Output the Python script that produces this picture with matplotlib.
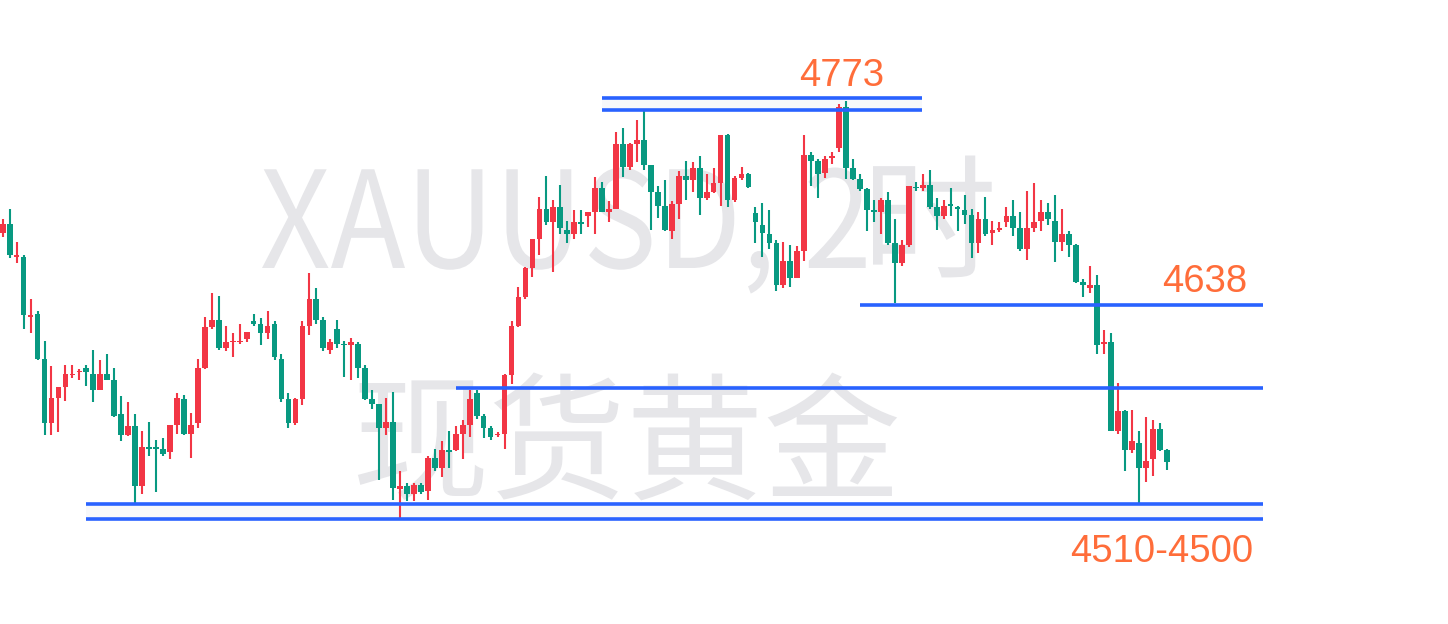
import numpy as np
import matplotlib
matplotlib.use("Agg")
import matplotlib.pyplot as plt
from matplotlib.textpath import TextPath
from matplotlib.patches import PathPatch
from matplotlib.font_manager import FontProperties
from matplotlib.transforms import Affine2D

# XAUUSD 2h candles (price units)
opens = [
    4686, 4692, 4670, 4670, 4630, 4632, 4602, 4559, 4576, 4583,
    4591, 4593, 4596, 4592, 4581, 4592, 4588, 4565, 4551, 4557,
    4517, 4543, 4543, 4542, 4540, 4558, 4575, 4552, 4559, 4596,
    4623, 4628, 4609, 4613, 4613, 4615, 4627, 4625, 4619, 4625,
    4602, 4575, 4559, 4575, 4624, 4642, 4628, 4608, 4622, 4612,
    4611, 4612, 4596, 4575, 4572, 4556, 4560, 4515, 4517, 4512,
    4518, 4514, 4536, 4529, 4541, 4541, 4552, 4558, 4579, 4564,
    4556, 4551, 4552, 4591, 4624, 4643, 4662.5, 4682, 4702, 4693,
    4703, 4688, 4685, 4693, 4697, 4700, 4716, 4700, 4702, 4745,
    4730, 4745, 4748, 4731, 4713, 4704, 4687, 4705, 4724, 4721,
    4729, 4709, 4713, 4719, 4751, 4708, 4722.5, 4725, 4699, 4691,
    4685, 4679, 4651, 4667, 4656, 4674, 4738, 4734, 4726, 4736,
    4742.5, 4770, 4729, 4722, 4715, 4701, 4700, 4708, 4679, 4666,
    4678, 4716.5, 4716, 4718, 4703, 4697, 4705, 4703, 4701, 4698,
    4679, 4695, 4686, 4688, 4693, 4697, 4689, 4675, 4689, 4693.5,
    4700, 4694, 4680, 4685, 4678, 4653, 4649, 4651, 4612, 4613,
    4554, 4567, 4541, 4546, 4529, 4535, 4555, 4541,
]
highs = [
    4695, 4702, 4680, 4671, 4642, 4634, 4614, 4597, 4583, 4598,
    4598, 4595, 4598, 4608, 4601, 4605, 4596, 4577, 4573, 4565,
    4554, 4560, 4548, 4549, 4558, 4579, 4578, 4566, 4602, 4630,
    4646, 4644, 4624, 4619, 4625, 4620, 4632, 4629, 4634, 4627,
    4605, 4579, 4576, 4627, 4659, 4649, 4630, 4615, 4628, 4614,
    4616, 4613, 4598, 4581, 4572, 4576, 4580, 4527, 4519, 4519,
    4519, 4537, 4542, 4547, 4554, 4557, 4561, 4581, 4581, 4565,
    4557, 4553, 4592, 4627, 4650, 4663, 4682, 4710, 4724, 4708,
    4718, 4694, 4701, 4701, 4700, 4723, 4720, 4707, 4753, 4756,
    4746, 4761, 4767, 4731, 4717, 4721, 4707, 4727, 4734, 4733,
    4737, 4725, 4729, 4751, 4752, 4724, 4730, 4725.5, 4703, 4706,
    4701, 4681, 4680, 4678, 4677, 4751, 4740, 4735, 4737, 4740,
    4772, 4774, 4735, 4725, 4716, 4708, 4709, 4713, 4695, 4681,
    4717, 4720, 4725, 4728, 4709, 4708, 4716, 4704, 4711, 4702,
    4700, 4710, 4694, 4693, 4703, 4708, 4700, 4714, 4719, 4708,
    4706, 4711, 4702, 4687, 4678.5, 4655, 4664, 4658, 4621, 4619,
    4586, 4568, 4568, 4554, 4563, 4561, 4559, 4541.5,
]
lows = [
    4683, 4669, 4666, 4622, 4619, 4601, 4551, 4551, 4553, 4574,
    4589, 4588, 4584, 4573, 4581, 4587.5, 4563, 4547, 4550.5, 4505,
    4512, 4537, 4513, 4537, 4535, 4552, 4551, 4536, 4556, 4595,
    4622, 4608, 4607, 4603, 4612, 4613, 4624, 4611, 4615, 4601,
    4573, 4556, 4558, 4571, 4618, 4625, 4607, 4605, 4609, 4590,
    4588, 4589, 4574.5, 4568.5, 4521, 4551, 4508, 4495, 4507, 4507,
    4512, 4508, 4527, 4523, 4529, 4540.5, 4535, 4550, 4562, 4549,
    4548, 4550, 4542, 4585, 4623, 4642, 4656.5, 4671, 4691, 4660,
    4685, 4679, 4682, 4685, 4690, 4685, 4700, 4693, 4702, 4723,
    4728, 4733, 4728, 4688, 4696, 4687, 4682, 4695, 4708, 4713,
    4698, 4708, 4712.5, 4704, 4703, 4706.5, 4721, 4716, 4679, 4670,
    4675, 4647, 4649, 4650, 4655.5, 4667, 4717, 4709, 4722.5, 4732,
    4740, 4722, 4721, 4714, 4687, 4693, 4685, 4678, 4639, 4664,
    4676.5, 4713.5, 4714, 4702, 4688, 4695, 4697, 4687, 4692, 4669,
    4672.5, 4684, 4678, 4686.5, 4690, 4684, 4674, 4668, 4686.5, 4687,
    4691, 4666.5, 4674, 4670, 4652.5, 4643, 4646, 4605, 4605, 4553.5,
    4552, 4527, 4539, 4505, 4520, 4524, 4540.5, 4528,
]
closes = [
    4692, 4671, 4671, 4631, 4631, 4602, 4559, 4576, 4583, 4592,
    4592, 4594, 4593, 4581, 4592, 4588, 4564, 4551, 4557, 4517,
    4543, 4542, 4542, 4538.5, 4558, 4576, 4552, 4558, 4596, 4623,
    4628, 4609, 4613, 4614, 4614, 4620, 4625, 4619, 4624, 4603,
    4575, 4559, 4575, 4624, 4642, 4628, 4609, 4613, 4612, 4611,
    4613, 4596, 4575, 4572, 4556, 4560, 4516, 4517, 4512, 4518,
    4513, 4536, 4529, 4541, 4540, 4552, 4558, 4575, 4564, 4556,
    4550, 4552, 4591, 4624, 4643, 4662.5, 4682, 4702, 4693, 4703,
    4689, 4685, 4693, 4692, 4700, 4716, 4700, 4702, 4745, 4730,
    4745, 4748, 4731, 4713, 4704, 4688, 4705, 4724, 4721, 4729,
    4709, 4713, 4719, 4751, 4708, 4722.5, 4725, 4716.5, 4693, 4686,
    4679, 4651, 4667, 4656, 4674, 4738, 4734, 4725, 4735, 4737,
    4770, 4729, 4722, 4715, 4701, 4699.5, 4708, 4679, 4666, 4678,
    4717, 4715.5, 4718, 4703, 4697, 4704, 4704, 4702, 4698, 4679,
    4695, 4685, 4688, 4689, 4697, 4689, 4675, 4689, 4693, 4700,
    4695, 4680, 4685, 4678, 4653, 4651, 4651, 4611, 4613, 4554,
    4567, 4541, 4547, 4529, 4534, 4555, 4541, 4533,
]

# horizontal levels drawn on the chart: (start bar, end bar, price)
levels = [
    (86.0, 131.9, 4775.5),
    (86.0, 131.9, 4767.7),
    (123.0, 180.8, 4637.7),
    (65.0, 180.8, 4582.3),
    (11.95, 180.8, 4505.0),
    (11.95, 180.8, 4494.8),
]
labels = ["4773", "4638", "4510-4500"]

UP = "#f23645"    # red = rising
DOWN = "#089981"  # green = falling
BLUE = "#2962ff"
ORANGE = "#ff6d3a"
WM = "#e6e6e9"
CJK = ["Noto Sans CJK SC", "DejaVu Sans"]

o = np.array(opens)
h = np.array(highs)
l = np.array(lows)
c = np.array(closes)
x = np.arange(len(o))
colors = np.where(c > o, UP, DOWN)

fig = plt.figure(figsize=(14.48, 6.24), dpi=100)
ax = fig.add_axes([0, 0, 1, 1])
ax.set_xlim(-0.387, 207.36)
ax.set_ylim(4425, 4841)
ax.axis("off")


def watermark(s, left_px, base_px, pts, sx=1.0):
    # glyph outline placed in pixel coords; sx squeezes it sideways
    tp = TextPath((0, 0), s, size=pts * 100 / 72, prop=FontProperties(family=CJK))
    x0 = tp.get_extents().x0
    tr = Affine2D().scale(sx, 1.0).translate(left_px - x0 * sx, 624 - base_px)
    ax.add_patch(PathPatch(tp, transform=tr, facecolor=WM, lw=0, zorder=0))


watermark("XAUUSD, 2", 262, 268, 97, sx=0.915)
watermark("时", 873, 268, 97)
ax.text(0.2425, 0.2147, "现货黄金", transform=ax.transAxes, ha="left", va="baseline",
        fontsize=99, color=WM, family=CJK, zorder=0)

body_lo = np.minimum(o, c)
body_h = np.maximum(np.abs(c - o), 1.0)
ax.vlines(x, l, h, colors=colors, lw=1.5, zorder=2)
ax.bar(x, body_h, bottom=body_lo, width=0.82, color=colors, lw=0, zorder=3)

# faint band inside the paired levels
ax.fill_between([levels[0][0], levels[0][1]], levels[1][2], levels[0][2], color="#f7f8fa", lw=0, zorder=1)
ax.fill_between([levels[4][0], levels[4][1]], levels[5][2], levels[4][2], color="#f7f8fa", lw=0, zorder=1)
for x0, x1, p in levels:
    ax.hlines(p, x0, x1, colors=BLUE, lw=2.6, zorder=4)

ax.text(120.3, 4783.7, labels[0], ha="center", va="baseline", fontsize=27.5,
        color=ORANGE, family="Liberation Sans", zorder=5)
ax.text(172.5, 4646.1, labels[1], ha="center", va="baseline", fontsize=27.5,
        color=ORANGE, family="Liberation Sans", zorder=5)
ax.text(166.3, 4466.5, labels[2], ha="center", va="baseline", fontsize=27.5,
        color=ORANGE, family="Liberation Sans", zorder=5)

fig.savefig("out.png", dpi=100, facecolor="white")
